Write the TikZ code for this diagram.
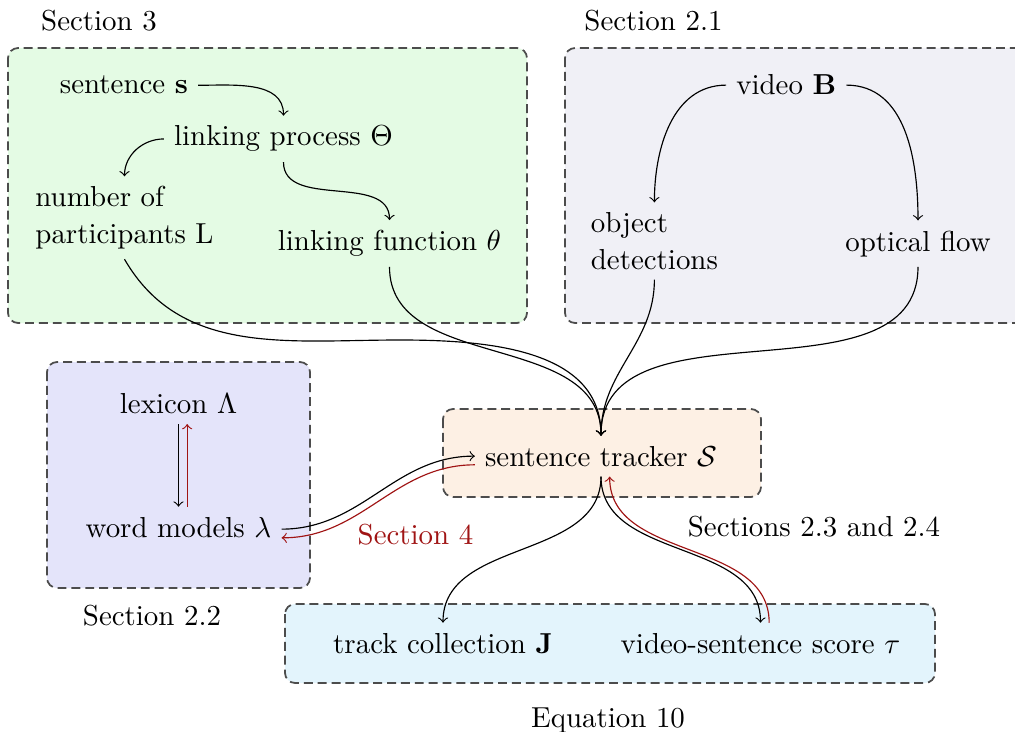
\documentclass[tikz,border=0pt]{standalone}
\usepackage{amsmath}
\definecolor{boxgreen}{RGB}{228,251,228}
\definecolor{boxgray}{RGB}{240,240,246}
\definecolor{boxblue}{RGB}{228,228,250}
\definecolor{boxorange}{RGB}{253,240,228}
\definecolor{boxcyan}{RGB}{227,244,252}
\definecolor{darkred}{RGB}{160,20,20}
\tikzset{
  box/.style={draw=black!70, line width=0.6pt, dash pattern=on 3.1pt off 1.7pt, rounded corners=3.5pt},
  lbl/.style={anchor=base, inner sep=0pt},
  txt/.style={anchor=base},
  mtxt/.style={anchor=center, align=left},
  conn/.style={->},
  back/.style={->, draw=darkred},
}
\begin{document}
\begin{tikzpicture}[x=0.346pt,y=0.346pt]
\clip (0,0) rectangle (1015,-732);
\fill[white] (0,0) rectangle (1015,-732);
% boxes
\filldraw[box, fill=boxgreen] (8,-48) rectangle (527,-323);
\filldraw[box, fill=boxgray] (565,-48) rectangle (1035,-323);
\filldraw[box, fill=boxblue] (47,-362) rectangle (310,-588);
\filldraw[box, fill=boxorange] (443,-409) rectangle (761,-497);
\filldraw[box, fill=boxcyan] (285,-604) rectangle (935,-683);
% section labels
\node[lbl] (l3) at (99,-31) {Section 3};
\node[lbl] (l21) at (653.5,-31) {Section 2.1};
\node[lbl] (l22) at (152,-625) {Section 2.2};
\node[lbl] (l234) at (814,-536) {Sections 2.3 and 2.4};
\node[lbl] (leq) at (608,-727) {Equation 10};
\node[lbl, text=darkred] (l4) at (415.5,-544) {Section 4};
% nodes
\node[txt] (s) at (124,-94) {sentence $\mathbf{s}$};
\node[txt] (lp) at (283.5,-146) {linking process $\Theta$};
\node[mtxt] (num) at (124.5,-217.8) {number of\\[0.6pt]participants L};
\node[txt] (lf) at (389.5,-250.7) {linking function $\theta$};
\node[txt] (vb) at (786.3,-95) {video $\mathbf{B}$};
\node[mtxt] (od) at (654.4,-241) {object\\[0.6pt]detections};
\node[txt] (of) at (918,-251) {optical flow};
\node[txt] (lex) at (178.5,-413.5) {lexicon $\Lambda$};
\node[txt] (wm) at (178.5,-537) {word models $\lambda$};
\node[txt] (st) at (601,-466) {sentence tracker $\mathcal{S}$};
\node[txt] (tc) at (443,-653) {track collection $\mathbf{J}$};
\node[txt] (vs) at (760.5,-653) {video-sentence score $\tau$};
% connectors
\draw[conn] (s.east) to[out=0,in=90] (lp.north);
\draw[conn] (lp.west) to[out=180,in=90] (num.north);
\draw[conn] (lp.south) to[out=-90,in=90] (lf.north);
\draw[conn] (vb.west) to[out=180,in=90] (od.north);
\draw[conn] (vb.east) to[out=0,in=90] (of.north);
\coordinate (mid) at (400,-340);
\draw[conn] (num.south) to[out=-60,in=180] (mid) to[out=0,in=90] (st.north);
\draw[conn] (lf.south) to[out=-90,in=90] (st.north);
\draw[conn] (od.south) to[out=-90,in=90] (st.north);
\draw[conn] (of.south) to[out=-90,in=90] (st.north);
\draw[conn] (lex.south) -- (wm.north);
\draw[back] ([xshift=3pt]wm.north) -- ([xshift=3pt]lex.south);
\draw[conn] ([yshift=-0.7pt]wm.east) to[out=0,in=180] (st.west);
\draw[back] ([yshift=-3pt]st.west) to[out=180,in=0] ([yshift=-3.7pt]wm.east);
\draw[conn] (st.south) to[out=-90,in=90] (tc.north);
\draw[conn] (st.south) to[out=-90,in=90] (vs.north);
\draw[back] ([xshift=3pt]vs.north) to[out=90,in=-90] ([xshift=3pt]st.south);
\end{tikzpicture}
\end{document}
